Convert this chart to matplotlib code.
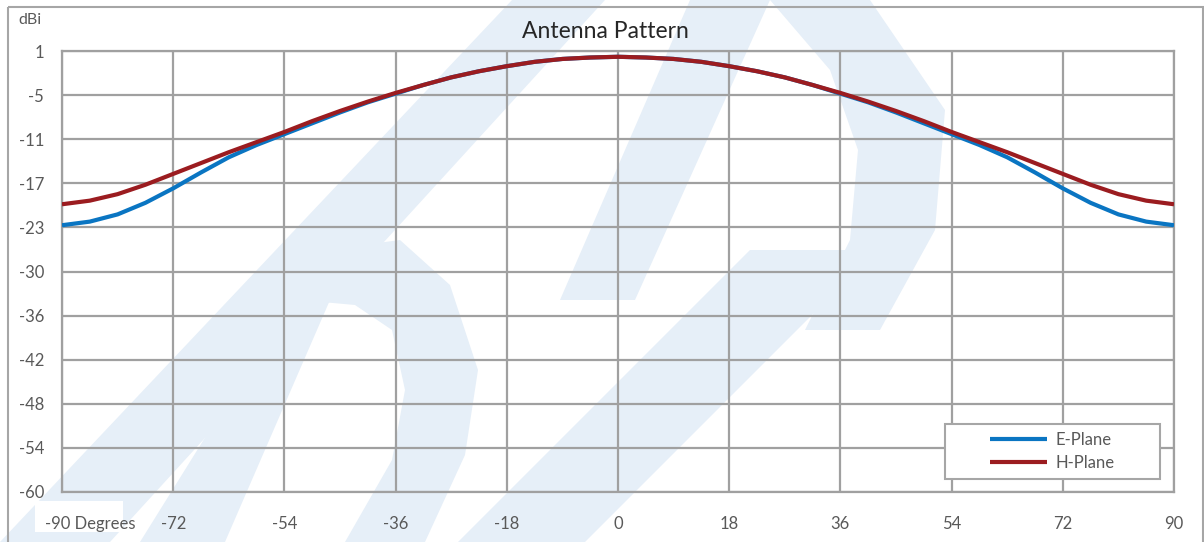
import numpy as np
import matplotlib
matplotlib.use("Agg")
import matplotlib.pyplot as plt
from matplotlib.patches import Polygon, Rectangle
from matplotlib.ticker import FixedLocator, FixedFormatter
import matplotlib.transforms as mtransforms

plt.rcParams['font.family'] = ['Lato', 'DejaVu Sans']

# ---- data ----
degrees = [-90, -85.5, -81, -76.5, -72, -67.5, -63, -58.5, -54, -49.5, -45,
           -40.5, -36, -31.5, -27, -22.5, -18, -13.5, -9, -4.5, 0,
           4.5, 9, 13.5, 18, 22.5, 27, 31.5, 36, 40.5, 45,
           49.5, 54, 58.5, 63, 67.5, 72, 76.5, 81, 85.5, 90]
e_plane = [-23.1, -22.6, -21.6, -20.0, -18.0, -15.8, -13.7, -12.0, -10.5, -9.0, -7.5,
           -6.1, -4.9, -3.7, -2.65, -1.8, -1.1, -0.5, -0.1, 0.1, 0.2,
           0.1, -0.1, -0.5, -1.1, -1.8, -2.65, -3.7, -4.9, -6.1, -7.5,
           -9.0, -10.5, -12.0, -13.7, -15.8, -18.0, -20.0, -21.6, -22.6, -23.1]
h_plane = [-20.2, -19.7, -18.8, -17.5, -16.0, -14.5, -13.0, -11.6, -10.2, -8.7, -7.3,
           -6.0, -4.8, -3.7, -2.65, -1.8, -1.1, -0.5, -0.1, 0.1, 0.2,
           0.1, -0.1, -0.5, -1.1, -1.8, -2.65, -3.7, -4.8, -6.0, -7.3,
           -8.7, -10.2, -11.6, -13.0, -14.5, -16.0, -17.5, -18.8, -19.7, -20.2]
x_ticks = [-90, -72, -54, -36, -18, 0, 18, 36, 54, 72, 90]
x_tick_labels = ["-90 Degrees", "-72", "-54", "-36", "-18", "0", "18", "36", "54", "72", "90"]
y_tick_labels = ["1", "-5", "-11", "-17", "-23", "-30", "-36", "-42", "-48", "-54", "-60"]
y_min, y_max = -60, 1
series_names = ["E-Plane", "H-Plane"]

W, H = 1204, 542
fig = plt.figure(figsize=(W / 100, H / 100), dpi=100)
fig.patch.set_facecolor("white")

# ---- background watermark (faint logo) ----
bg = fig.add_axes([0, 0, 1, 1], zorder=0)
bg.set_xlim(0, W)
bg.set_ylim(H, 0)
bg.axis("off")
wm = "#e6eff8"
shapes = [
    [(0, 542), (110, 542), (605, 0), (512, 0)],
    [(300, 300), (340, 248), (400, 240), (450, 285), (478, 370), (465, 455), (425, 542),
     (345, 542), (392, 460), (405, 390), (392, 330), (355, 305)],
    [(140, 542), (225, 542), (330, 300), (300, 285)],
    [(458, 542), (585, 542), (877, 250), (750, 250)],
    [(770, 0), (870, 0), (945, 110), (935, 230), (880, 330), (805, 330), (850, 240), (858, 150), (830, 70)],
    [(560, 300), (635, 300), (770, 0), (690, 0)],
]
for s in shapes:
    bg.add_patch(Polygon(s, closed=True, facecolor=wm, edgecolor="none"))
# white patch behind first x label
bg.add_patch(Rectangle((35, 501), 88, 31, facecolor="white", edgecolor="none"))
# outer chart border
bg.add_patch(Rectangle((7.5, 6.5), 1195, 600, facecolor="none", edgecolor="#a6a6a6", lw=1.5))

# ---- main plot ----
left, right, top, bottom = 62, 1174, 51, 492
ax = fig.add_axes([left / W, 1 - bottom / H, (right - left) / W, (bottom - top) / H], zorder=1)
ax.patch.set_visible(False)

grid_c = "#a0a0a0"
ax.plot(degrees, e_plane, color="#0a75c2", lw=3.0, solid_capstyle="butt", solid_joinstyle="round",
        label=series_names[0], zorder=3)
ax.plot(degrees, h_plane, color="#9b1c20", lw=3.0, solid_capstyle="butt", solid_joinstyle="round",
        label=series_names[1], zorder=4)

ax.set_xlim(-90, 90)
ax.set_ylim(y_min, y_max)
ax.xaxis.set_major_locator(FixedLocator(x_ticks))
ax.xaxis.set_major_formatter(FixedFormatter(x_tick_labels))
ax.yaxis.set_major_locator(FixedLocator(np.linspace(y_max, y_min, len(y_tick_labels))))
ax.yaxis.set_major_formatter(FixedFormatter(y_tick_labels))
ax.grid(True, color=grid_c, lw=1.6)
ax.set_axisbelow(True)
for sp in ax.spines.values():
    sp.set_color(grid_c)
    sp.set_linewidth(1.6)
ax.tick_params(length=0, labelsize=12, colors="#595959", pad=13)
ax.tick_params(axis="x", pad=17)

# first x label is left-aligned like the reference
lbl0 = ax.get_xticklabels()[0]
lbl0.set_horizontalalignment("left")
lbl0.set_transform(lbl0.get_transform() + mtransforms.ScaledTranslation(-17 / 100, 0, fig.dpi_scale_trans))

# title and unit label
fig.text(605 / W, 1 - 31 / H, "Antenna Pattern", ha="center", va="center", fontsize=16.5, color="#262626")
fig.text(18 / W, 1 - 20 / H, "dBi", ha="left", va="center", fontsize=11.5, color="#595959")

# legend box
lx0, ly0, lx1, ly1 = 945, 424, 1160, 479
fig.add_artist(Rectangle((lx0 / W, 1 - ly1 / H), (lx1 - lx0) / W, (ly1 - ly0) / H,
                         transform=fig.transFigure, facecolor="white", edgecolor="#a6a6a6", lw=1.5, zorder=5))
leg = fig.legend(loc="center", bbox_to_anchor=((lx0 + lx1) / 2 / W, 1 - (ly0 + ly1) / 2 / H),
                 frameon=False, fontsize=12, handlelength=3.4, handletextpad=0.5, labelspacing=0.45,
                 labelcolor="#595959")
leg.set_zorder(6)

fig.savefig("out.png", dpi=100)
